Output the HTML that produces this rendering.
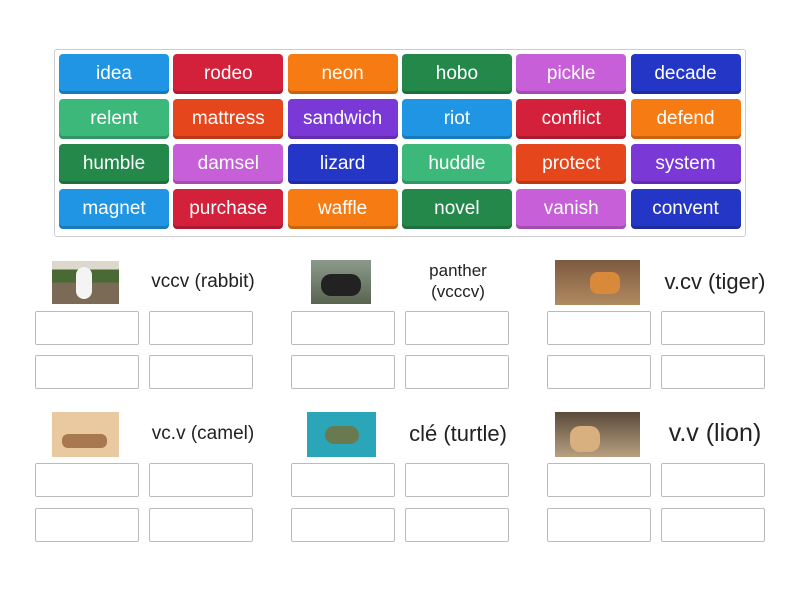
<!DOCTYPE html>
<html><head><meta charset="utf-8"><style>
body{margin:0;width:800px;height:600px;background:#fff;font-family:"Liberation Sans",sans-serif;position:relative;overflow:hidden}
.frame{position:absolute;left:54px;top:49px;width:690px;height:186px;border:1px solid #ccc;border-radius:3px}
.t{position:absolute;width:110px;height:40px;border-radius:4px;color:#fff;font-size:19px;line-height:40px;text-align:center;box-shadow:inset 0 -3px 0 rgba(0,0,0,.18)}
.b{position:absolute;width:102px;height:32px;border:1px solid #bbb;border-radius:2px;background:#fff}
.img{position:absolute}
.l{position:absolute;color:#222;text-align:center;white-space:nowrap}
</style></head><body>
<div class="frame"></div>
<div id="tiles"></div>
<script>
var C={b:"#1f95e4",r:"#d3203b",o:"#f57b12",g:"#24884a",m:"#c65fd8",d:"#2436c6",G:"#3cb87a",O:"#e6461c",p:"#7a38d6"};
var rows=[[["idea","b"],["rodeo","r"],["neon","o"],["hobo","g"],["pickle","m"],["decade","d"]],
[["relent","G"],["mattress","O"],["sandwich","p"],["riot","b"],["conflict","r"],["defend","o"]],
[["humble","g"],["damsel","m"],["lizard","d"],["huddle","G"],["protect","O"],["system","p"]],
[["magnet","b"],["purchase","r"],["waffle","o"],["novel","g"],["vanish","m"],["convent","d"]]];
var h="";
rows.forEach(function(r,i){r.forEach(function(c,j){h+='<div class="t" style="left:'+(59+j*114.3)+'px;top:'+(54+i*45)+'px;background:'+C[c[1]]+'">'+c[0]+'</div>';});});
[35,291,547].forEach(function(x){[311,355,463,508].forEach(function(y){h+='<div class="b" style="left:'+x+'px;top:'+y+'px"></div><div class="b" style="left:'+(x+114)+'px;top:'+y+'px"></div>';});});
document.getElementById("tiles").innerHTML=h;
</script>
<div class="img" style="left:52px;top:261px;width:67px;height:43px;background:linear-gradient(#dcd8cc 0,#dcd8cc 20%,#4a6a35 20%,#4a6a35 50%,#7b6a55 50%)"><div style="position:absolute;left:24px;top:6px;width:16px;height:32px;background:#f4f4f4;border-radius:8px"></div></div>
<div class="img" style="left:311px;top:260px;width:60px;height:44px;background:linear-gradient(#8a9a8a,#5a6450)"><div style="position:absolute;left:10px;top:14px;width:40px;height:22px;background:#222;border-radius:10px"></div></div>
<div class="img" style="left:555px;top:260px;width:85px;height:45px;background:linear-gradient(#7c5a40,#b08a60)"><div style="position:absolute;left:35px;top:12px;width:30px;height:22px;background:#d88a3a;border-radius:8px"></div></div>
<div class="img" style="left:52px;top:412px;width:67px;height:45px;background:#e9c9a0"><div style="position:absolute;left:10px;top:22px;width:45px;height:14px;background:#a87850;border-radius:6px"></div></div>
<div class="img" style="left:307px;top:412px;width:69px;height:45px;background:#2aa6b8"><div style="position:absolute;left:18px;top:14px;width:34px;height:18px;background:#6a7a50;border-radius:10px"></div></div>
<div class="img" style="left:555px;top:412px;width:85px;height:45px;background:linear-gradient(#5a4a3a,#b8a080)"><div style="position:absolute;left:15px;top:14px;width:30px;height:26px;background:#d8b080;border-radius:10px"></div></div>
<div class="l" style="left:128px;width:150px;top:271px;font-size:19px">vccv (rabbit)</div>
<div class="l" style="left:383px;width:150px;top:260px;font-size:17px;line-height:21px">panther<br>(vcccv)</div>
<div class="l" style="left:640px;width:150px;top:269px;font-size:22px">v.cv (tiger)</div>
<div class="l" style="left:128px;width:150px;top:423px;font-size:19px">vc.v (camel)</div>
<div class="l" style="left:383px;width:150px;top:421px;font-size:22px">clé (turtle)</div>
<div class="l" style="left:640px;width:150px;top:419px;font-size:25px">v.v (lion)</div>
</body></html>
